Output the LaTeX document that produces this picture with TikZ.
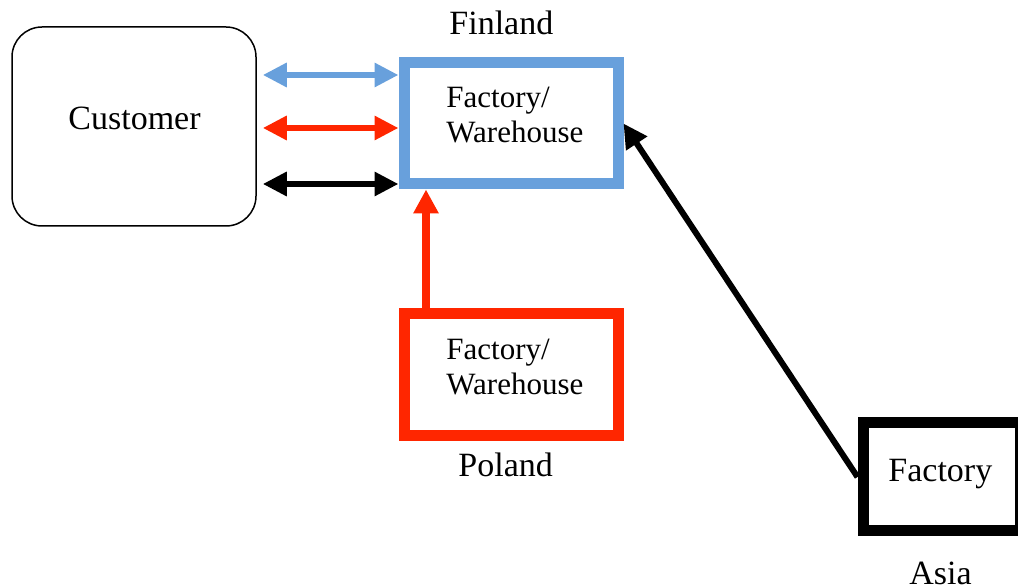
\documentclass[tikz,border=0pt]{standalone}
\usepackage{fontspec}
\setmainfont{Liberation Serif}
\newfontfamily\labelfont{Liberation Serif}
\usetikzlibrary{arrows.meta}
\definecolor{finblue}{RGB}{104,160,220}
\definecolor{polred}{RGB}{255,38,0}
\tikzset{
  site/.style={draw, rectangle, inner sep=0pt, line width=5.5pt},
  big/.style={font=\labelfont\fontsize{17pt}{20pt}\selectfont, inner sep=0pt, anchor=base west},
  small/.style={font=\labelfont\fontsize{15.5pt}{17.5pt}\selectfont, inner sep=0pt, anchor=base west},
  flow/.style={line width=3pt, -{Triangle[length=12pt,width=12pt]}},
  dflow/.style={line width=3pt, {Triangle[length=12pt,width=11.5pt]}-{Triangle[length=12pt,width=11.5pt]}},
}
\begin{document}
\begin{tikzpicture}[x=0.5pt,y=-0.5pt]
\useasboundingbox (0,0) rectangle (1018,587);

% customer
\node[draw, rounded corners=15pt, line width=0.75pt, minimum width=122pt, minimum height=99.5pt]
  (cust) at (134,126.5) {};
\node[big] (custTxt) at (68,130) {Customer};

% Finland site
\node[site, draw=finblue, minimum width=107pt, minimum height=60.5pt] (fin) at (511,123.5) {};
\node[big] (finLbl) at (449,35) {Finland};
\node[small] (finL1) at (446,108) {Factory/};
\node[small] (finL2) at (446,143) {Warehouse};

% Poland site
\node[site, draw=polred, minimum width=107pt, minimum height=61pt] (pol) at (511,375) {};
\node[small] (polL1) at (446,360) {Factory/};
\node[small] (polL2) at (446,395) {Warehouse};
\node[big] (polLbl) at (458,477) {Poland};

% Asia site
\node[site, draw=black, minimum width=78.5pt, minimum height=54pt] (asia) at (941.5,477) {};
\node[big] (asiaL) at (888,482) {Factory};
\node[big] (asiaLbl) at (909,585) {Asia};

% flows between customer and Finland
\coordinate (yb) at (0,75);
\coordinate (yr) at (0,128);
\coordinate (yk) at (0,184);
\draw[dflow, finblue] ([xshift=3pt]cust.east |- yb) -- (fin.west |- yb);
\draw[dflow, polred] ([xshift=3pt]cust.east |- yr) -- (fin.west |- yr);
\draw[dflow, black] ([xshift=3pt]cust.east |- yk) -- (fin.west |- yk);

% supply flows
\coordinate (xr) at (426,0);
\draw[flow, polred, line width=4pt] (pol.north -| xr) -- (fin.south -| xr);
\draw[flow, black] (asia.west) -- (fin.east);
\end{tikzpicture}
\end{document}
